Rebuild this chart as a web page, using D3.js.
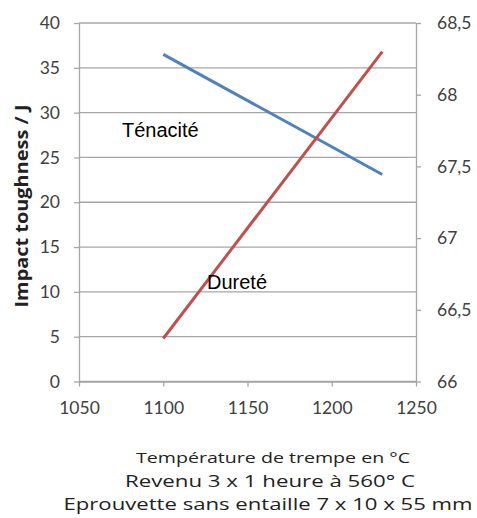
<!DOCTYPE html>
<html><head><meta charset="utf-8">
<script src="https://cdn.jsdelivr.net/npm/d3@7"></script>
<style>body{margin:0;background:#fff}svg{display:block}</style>
</head><body>
<svg id="c" width="477" height="518"></svg>
<script>
const xTicks = [1050, 1100, 1150, 1200, 1250];
const leftTicks = [0, 5, 10, 15, 20, 25, 30, 35, 40];
const rightTicks = [66, 66.5, 67, 67.5, 68, 68.5];
const temps = [1100, 1230];
const tenacite = [36.5, 23.1];
const durete = [66.3, 68.3];
const yTitle = "Impact toughness / J";
const captions = ["Température de trempe en °C", "Revenu 3 x 1 heure à 560° C", "Eprouvette sans entaille 7 x 10 x 55 mm"];

const svg = d3.select("#c");
const L = 79, R = 416, T = 23, B = 381.5;
const x = d3.scaleLinear().domain([1050, 1250]).range([L, R]);
const yL = d3.scaleLinear().domain([0, 40]).range([B, T]);
const yR = d3.scaleLinear().domain([66, 68.5]).range([B, T]);
const tickFont = "Lato, 'Liberation Sans Narrow', sans-serif";
const grid = "#a6a6a6";

// gridlines
svg.append("g").selectAll("line").data(leftTicks).join("line")
  .attr("x1", L).attr("x2", R).attr("y1", d => yL(d)).attr("y2", d => yL(d))
  .attr("stroke", grid).attr("stroke-width", 1.3);

function styleAxis(g){
  g.select(".domain").attr("stroke", grid).attr("stroke-width", 1.3);
  g.selectAll(".tick line").attr("stroke", grid).attr("stroke-width", 1.3);
  g.selectAll(".tick text").attr("fill", "#404040").style("font-family", tickFont).style("font-size", "17.5px");
}
const gl = svg.append("g").attr("transform", `translate(${L},0)`)
  .call(d3.axisLeft(yL).tickValues(leftTicks).tickSize(5).tickPadding(14).tickSizeOuter(0));
styleAxis(gl);
const gr = svg.append("g").attr("transform", `translate(${R},0)`)
  .call(d3.axisRight(yR).tickValues(rightTicks).tickSize(5).tickPadding(16).tickSizeOuter(0)
    .tickFormat(d => d3.format("")(d).replace(".", ",")));
styleAxis(gr);
const gx = svg.append("g").attr("transform", `translate(0,${B})`)
  .call(d3.axisBottom(x).tickValues(xTicks).tickSize(5).tickPadding(15).tickSizeOuter(0).tickFormat(d3.format("")));
styleAxis(gx);

// lines
const lineL = d3.line().x((d, i) => x(temps[i])).y(d => yL(d));
const lineR = d3.line().x((d, i) => x(temps[i])).y(d => yR(d));
svg.append("path").datum(tenacite).attr("d", lineL).attr("fill", "none")
  .attr("stroke", "#4f81bd").attr("stroke-width", 3);
svg.append("path").datum(durete).attr("d", lineR).attr("fill", "none")
  .attr("stroke", "#c0504d").attr("stroke-width", 3);

// annotations
const lab = "Arial, 'Liberation Sans', sans-serif";
svg.append("text").attr("x", 122).attr("y", 137).text("Ténacité")
  .style("font-family", lab).style("font-size", "20px").attr("fill", "#000");
svg.append("text").attr("x", 207).attr("y", 289).text("Dureté")
  .style("font-family", lab).style("font-size", "20px").attr("fill", "#000");

// y title
svg.append("text").attr("transform", "translate(28,206) rotate(-90)")
  .attr("text-anchor", "middle").text(yTitle)
  .attr("textLength", 203).attr("lengthAdjust", "spacingAndGlyphs")
  .style("font-family", "'Open Sans', 'Liberation Sans', sans-serif").style("font-weight", "bold")
  .style("font-size", "17.5px").attr("fill", "#222");

// captions
const cap = [{y: 463, s: 14.5, w: 274, cx: 273}, {y: 487, s: 17, w: 290, cx: 270}, {y: 510, s: 17, w: 409, cx: 268}];
svg.append("g").selectAll("text").data(captions).join("text")
  .attr("x", (d, i) => cap[i].cx).attr("y", (d, i) => cap[i].y)
  .attr("text-anchor", "middle")
  .attr("textLength", (d, i) => cap[i].w).attr("lengthAdjust", "spacingAndGlyphs")
  .style("font-family", "'Open Sans', sans-serif").style("font-size", (d, i) => cap[i].s + "px")
  .attr("fill", "#222").text(d => d);
</script>
</body></html>
